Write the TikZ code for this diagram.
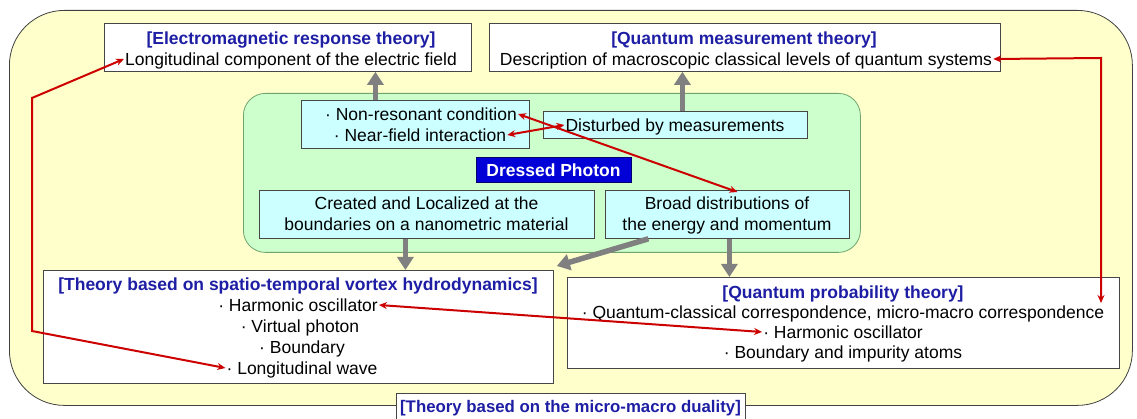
\documentclass[tikz,border=0pt]{standalone}
\usepackage{fontspec}
\setmainfont{Liberation Sans}
\usetikzlibrary{arrows.meta}
\definecolor{yel}{RGB}{255,255,204}
\definecolor{grn}{RGB}{204,255,204}
\definecolor{grnline}{RGB}{110,165,110}
\definecolor{cyn}{RGB}{204,255,255}
\definecolor{boxline}{RGB}{70,70,70}
\definecolor{dpblue}{RGB}{0,0,215}
\definecolor{dpline}{RGB}{0,0,110}
\definecolor{headblue}{RGB}{30,30,165}
\definecolor{arrred}{RGB}{205,0,0}
\definecolor{arrgray}{RGB}{128,128,128}
\newcommand{\mysz}{\fontsize{17.5}{21}\selectfont}
\newcommand{\mysmall}{\fontsize{16.8}{20}\selectfont}
\begin{document}
\begin{tikzpicture}[x=1pt,y=-1pt,
  box/.style={draw=boxline,line width=0.8pt,inner sep=0pt,anchor=north west},
  txt/.style={inner sep=1pt,text height=12.5pt,text depth=0pt,font=\mysz},
  head/.style={txt,font=\mysz\bfseries,text=headblue},
  redarr/.style={draw=arrred,line width=2pt,arrows={Stealth[length=8pt,width=7pt]-Stealth[length=8pt,width=7pt]}},
  grayarr/.style={draw=arrgray,line width=5.5pt,arrows={-Triangle[length=13pt,width=16pt]}}]
\useasboundingbox (0,0) rectangle (1137,419);
% outer and inner regions
\node[box,draw=black!75,fill=yel,rounded corners=55pt,minimum width=1123,minimum height=395] (outer) at (9,10) {};
\node[box,draw=grnline,fill=grn,rounded corners=22pt,minimum width=617,minimum height=159] (green) at (243,93) {};
% boxes
\node[box,fill=white,minimum width=367,minimum height=48] (em) at (104,23) {};
\node[box,fill=white,minimum width=511,minimum height=48] (qm) at (489,23) {};
\node[box,fill=cyn,minimum width=228,minimum height=48] (nr) at (301,100) {};
\node[box,fill=cyn,minimum width=264,minimum height=27] (dist) at (543,111) {};
\node[box,draw=dpline,fill=dpblue,minimum width=155,minimum height=25] (dp) at (476,157) {};
\node[box,fill=cyn,minimum width=335,minimum height=48] (cr) at (259,190) {};
\node[box,fill=cyn,minimum width=244,minimum height=48] (br) at (605,190) {};
\node[box,fill=white,minimum width=510,minimum height=113] (vx) at (43,270) {};
\node[box,fill=white,minimum width=552,minimum height=91] (qp) at (567,277) {};
\node[box,fill=white,minimum width=349,minimum height=40] (dual) at (396,393) {};
% texts
\node[head] (emT) at (291,38) {[Electromagnetic response theory]};
\node[txt] (emL) at (291,59) {Longitudinal component of the electric field};
\node[head] (qmT) at (744,38) {[Quantum measurement theory]};
\node[txt] (qmL) at (746,59) {Description of macroscopic classical levels of quantum systems};
\node[txt] (nr1) at (421,114) {·~Non-resonant condition};
\node[txt] (nr2) at (420,135) {·~Near-field interaction};
\node[txt] (distT) at (675,125) {Disturbed by measurements};
\node[txt,font=\mysz\bfseries,text=white] (dpT) at (553.5,170) {Dressed Photon};
\node[txt] (cr1) at (426.5,203.5) {Created and Localized at the};
\node[txt] (cr2) at (426.5,224.5) {boundaries on a nanometric material};
\node[txt] (br1) at (727,203.5) {Broad distributions of};
\node[txt] (br2) at (727,224.5) {the energy and momentum};
\node[head] (vxT) at (298,284) {[Theory based on spatio-temporal vortex hydrodynamics]};
\node[txt] (vx1) at (298,305) {·~Harmonic oscillator};
\node[txt] (vx2) at (300,326) {·~Virtual photon};
\node[txt] (vx3) at (302,347) {·~Boundary};
\node[txt] (vx4) at (302,368) {·~Longitudinal wave};
\node[head] (qpT) at (843,292) {[Quantum probability theory]};
\node[txt] (qp1) at (843,312) {·~Quantum-classical correspondence, micro-macro correspondence};
\node[txt] (qp2) at (843,332) {·~Harmonic oscillator};
\node[txt] (qp3) at (843,352) {·~Boundary and impurity atoms};
\node[head,font=\mysmall\bfseries] (dualT) at (570.5,406.5) {[Theory based on the micro-macro duality]};
% gray arrows
\draw[grayarr] ([xshift=-40pt]nr.north) -- ([xshift=-40pt]nr.north |- em.south);
\draw[grayarr] ([xshift=7pt]dist.north) -- ([xshift=7pt]dist.north |- qm.south);
\draw[grayarr] ([xshift=-21.5pt]cr.south) -- ([xshift=-21.5pt]cr.south |- vx.north);
\draw[grayarr] ([xshift=2pt]br.south) -- ([xshift=2pt]br.south |- qp.north);
\draw[grayarr] ([xshift=-79pt]br.south) -- ([xshift=3pt,yshift=4pt]vx.north east);
% red arrows
\coordinate (c1) at (32,98);
\coordinate (c2) at (32,331);
\coordinate (c3) at (1101,58);
\coordinate (c4) at (1101,303);
\draw[redarr] (nr1.east) -- ([xshift=10pt,yshift=-2pt]br.north);
\draw[redarr] (nr2.east) -- (distT.west);
\draw[redarr] (emL.west) -- (c1) -- (c2) -- (vx4.west);
\draw[redarr] (vx1.east) -- (qp2.west);
\draw[redarr] (qmL.east) -- (c3) -- (c4);
\end{tikzpicture}
\end{document}
